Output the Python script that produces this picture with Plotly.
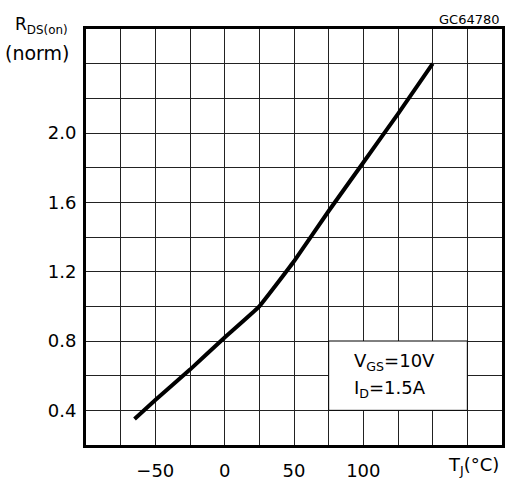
import plotly.graph_objects as go

# Curve data
temp_c = [-65, -50, -25, 0, 25, 50, 75, 100, 125, 150]
rds_norm = [0.35, 0.46, 0.635, 0.82, 1.0, 1.26, 1.55, 1.83, 2.11, 2.40]

# Axis ticks and grid
x_ticks = [-50, 0, 50, 100]
x_labels = ["−50", "0", "50", "100"]
x_grid = [-100, -75, -50, -25, 0, 25, 50, 75, 100, 125, 150, 175, 200]
y_ticks = [0.4, 0.8, 1.2, 1.6, 2.0]
y_labels = ["0.4", "0.8", "1.2", "1.6", "2.0"]
y_grid = [0.2, 0.4, 0.6, 0.8, 1.0, 1.2, 1.4, 1.6, 1.8, 2.0, 2.2, 2.4, 2.6]

FONT = "DejaVu Sans"

fig = go.Figure()
fig.add_trace(go.Scatter(x=temp_c, y=rds_norm, mode="lines",
                         line=dict(color="black", width=4, shape="spline", smoothing=0.3),
                         hoverinfo="skip", showlegend=False))

# white condition box
fig.add_shape(type="rect", xref="x", yref="y", x0=75, x1=175, y0=0.4, y1=0.8,
              fillcolor="white", line=dict(color="black", width=1), layer="between")

fig.add_annotation(x=92, y=0.68, xref="x", yref="y", xanchor="left", yanchor="middle",
                   text="V<sub>GS</sub>=10V", showarrow=False,
                   font=dict(family=FONT, size=18, color="black"))
fig.add_annotation(x=92, y=0.525, xref="x", yref="y", xanchor="left", yanchor="middle",
                   text="I<sub>D</sub>=1.5A", showarrow=False,
                   font=dict(family=FONT, size=18, color="black"))

# axis titles
fig.add_annotation(x=-0.175, y=1.008, xref="paper", yref="paper", xanchor="left", yanchor="middle",
                   text="R<sub>DS(on)</sub>", showarrow=False,
                   font=dict(family=FONT, size=17, color="black"))
fig.add_annotation(x=-0.2, y=0.942, xref="paper", yref="paper", xanchor="left", yanchor="middle",
                   text="(norm)", showarrow=False,
                   font=dict(family=FONT, size=19, color="black"))
fig.add_annotation(x=0.865, y=-0.05, xref="paper", yref="paper", xanchor="left", yanchor="middle",
                   text="T<sub>J</sub>(°C)", showarrow=False,
                   font=dict(family=FONT, size=18, color="black"))
fig.add_annotation(x=1.0, y=1.022, xref="paper", yref="paper", xanchor="right", yanchor="middle",
                   text="GC64780", showarrow=False,
                   font=dict(family=FONT, size=13, color="black"))

fig.update_xaxes(range=[-100, 200], tickvals=x_ticks, ticktext=x_labels,
                 showgrid=True, gridcolor="#222222", gridwidth=1,
                 minor=dict(tickvals=x_grid, showgrid=True, gridcolor="#222222", gridwidth=1, ticks=""),
                 showline=True, linecolor="black", linewidth=3, mirror=True,
                 ticks="outside", ticklen=7, tickcolor="rgba(0,0,0,0)", zeroline=False,
                 tickfont=dict(family=FONT, size=18, color="black"), fixedrange=True)
fig.update_yaxes(range=[0.2, 2.6], tickvals=y_ticks, ticktext=y_labels,
                 showgrid=True, gridcolor="#222222", gridwidth=1,
                 minor=dict(tickvals=y_grid, showgrid=True, gridcolor="#222222", gridwidth=1, ticks=""),
                 showline=True, linecolor="black", linewidth=3, mirror=True,
                 ticks="outside", ticklen=3, tickcolor="rgba(0,0,0,0)", zeroline=False,
                 tickfont=dict(family=FONT, size=18, color="black"), fixedrange=True)

fig.update_layout(width=514, height=480,
                  margin=dict(l=86, r=12, t=29, b=35, autoexpand=False),
                  paper_bgcolor="white", plot_bgcolor="white",
                  showlegend=False)

fig.write_html("out.html", config={"displayModeBar": False},
               post_script="document.body.style.margin='0';document.body.style.padding='0';")
